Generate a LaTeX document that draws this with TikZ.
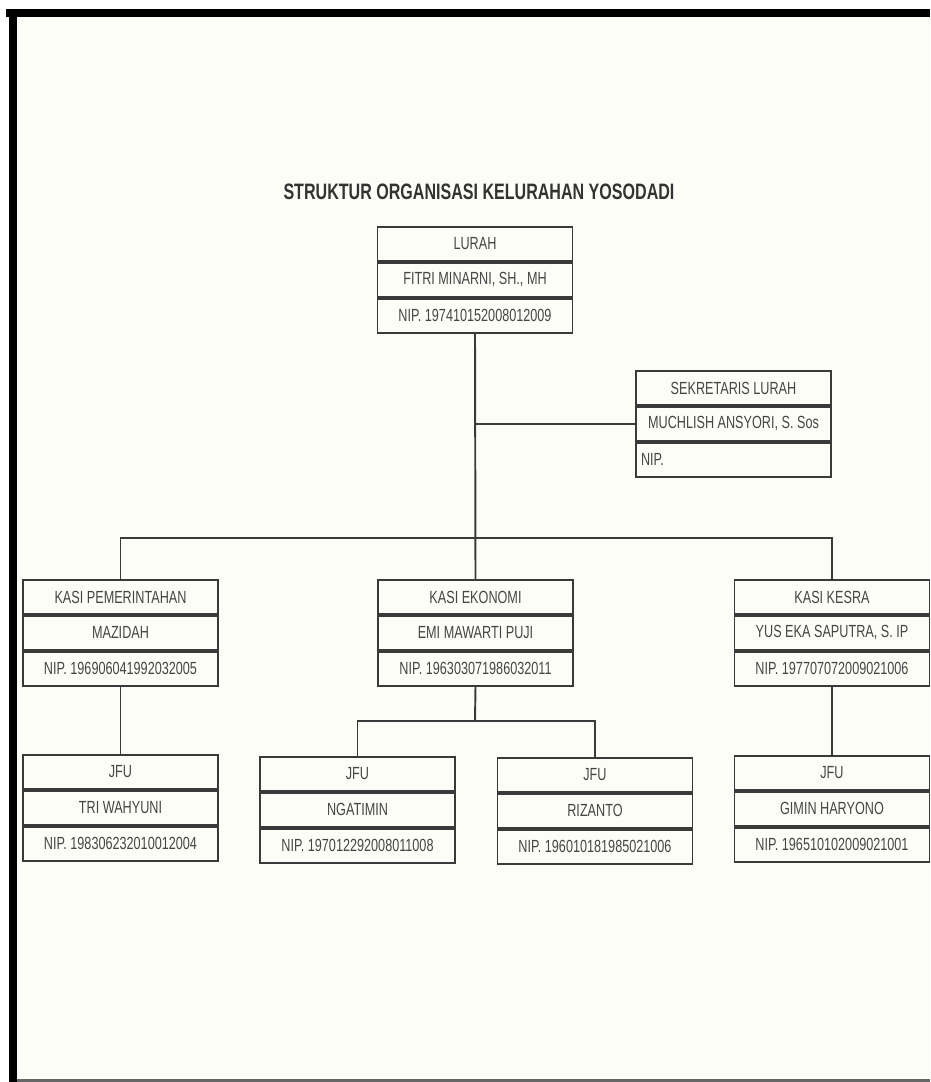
\documentclass[tikz,border=0pt]{standalone}
\usepackage{fontspec}
\newfontfamily\narrowfont[FakeStretch=0.72]{Liberation Sans}
\usepackage{tikz}
\usetikzlibrary{positioning}
\definecolor{kertas}{HTML}{FDFDF8}
\definecolor{garis}{HTML}{3A3A3A}
\definecolor{tulisan}{HTML}{454545}

\begin{document}
\begin{tikzpicture}[x=0.02cm, y=-0.02cm, node distance=0pt,
        row/.style={draw=garis, line width=1.1pt, minimum width=3.9cm, minimum height=0.68cm,
            inner sep=0.1cm, text=tulisan, font=\narrowfont\fontsize{10}{12}\selectfont},
        link/.style={draw=garis, line width=1.1pt}]
        % 框架
        \useasboundingbox (0,0) rectangle (930,1082);
        \fill[white] (0,0) rectangle (930,1082);
        \fill[kertas] (17,17) rectangle (930,1079);
        \fill[black] (6,9) rectangle (930,17);
        \fill[black] (9,9) rectangle (17,1082);
        \fill[black!60] (17,1079) rectangle (930,1082);

        % 标题
        \node[text=black!80, font=\narrowfont\bfseries\fontsize{12.7}{15}\selectfont] (judul) at (479,192) {STRUKTUR ORGANISASI KELURAHAN YOSODADI};

        % 节点
        \node[row, anchor=north] (lurah1) at (475,226) {LURAH};
        \node[row, below=of lurah1] (lurah2) {FITRI MINARNI, SH., MH};
        \node[row, below=of lurah2] (lurah3) {NIP. 197410152008012009};

        \node[row, anchor=north] (sek1) at (733.5,370) {SEKRETARIS LURAH};
        \node[row, below=of sek1] (sek2) {MUCHLISH ANSYORI, S. Sos};
        \node[row, below=of sek2, text width=3.7cm, align=left] (sek3) {NIP.};

        \node[row, anchor=north] (pem1) at (120.5,579) {KASI PEMERINTAHAN};
        \node[row, below=of pem1] (pem2) {MAZIDAH};
        \node[row, below=of pem2] (pem3) {NIP. 196906041992032005};

        \node[row, anchor=north] (eko1) at (475.5,579) {KASI EKONOMI};
        \node[row, below=of eko1] (eko2) {EMI MAWARTI PUJI};
        \node[row, below=of eko2] (eko3) {NIP. 196303071986032011};

        \node[row, anchor=north] (kes1) at (832,579) {KASI KESRA};
        \node[row, below=of kes1] (kes2) {YUS EKA SAPUTRA, S. IP};
        \node[row, below=of kes2] (kes3) {NIP. 197707072009021006};

        \node[row, anchor=north] (jfua1) at (120.5,754) {JFU};
        \node[row, below=of jfua1] (jfua2) {TRI WAHYUNI};
        \node[row, below=of jfua2] (jfua3) {NIP. 198306232010012004};

        \node[row, anchor=north] (jfub1) at (357.5,756) {JFU};
        \node[row, below=of jfub1] (jfub2) {NGATIMIN};
        \node[row, below=of jfub2] (jfub3) {NIP. 197012292008011008};

        \node[row, anchor=north] (jfuc1) at (595,757) {JFU};
        \node[row, below=of jfuc1] (jfuc2) {RIZANTO};
        \node[row, below=of jfuc2] (jfuc3) {NIP. 196010181985021006};

        \node[row, anchor=north] (jfud1) at (832,755) {JFU};
        \node[row, below=of jfud1] (jfud2) {GIMIN HARYONO};
        \node[row, below=of jfud2] (jfud3) {NIP. 196510102009021001};

        % 连线
        \coordinate (bus) at (475,538);
        \coordinate (sub) at (475,721);
        \draw[link] (lurah3.south) -- (eko1.north);
        \draw[link] (lurah3.south |- sek2.west) -- (sek2.west);
        \draw[link] (pem1.north) |- (bus) -| (kes1.north);
        \draw[link] (eko3.south) -- (sub);
        \draw[link] (jfub1.north) |- (sub) -| (jfuc1.north);
        \draw[link] (pem3.south) -- (jfua1.north);
        \draw[link] (kes3.south) -- (jfud1.north);
    \end{tikzpicture}
\end{document}
